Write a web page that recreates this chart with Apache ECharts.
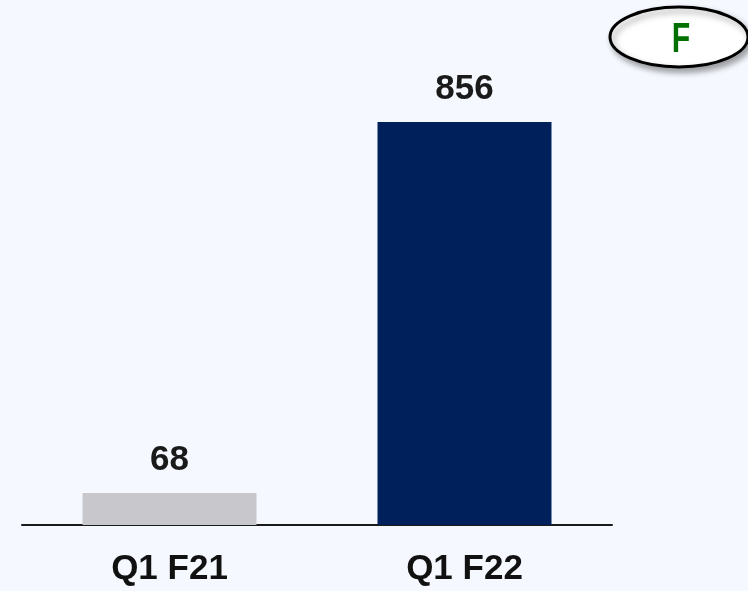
<!DOCTYPE html>
<html>
<head>
<meta charset="utf-8">
<script src="https://cdn.jsdelivr.net/npm/echarts@6/dist/echarts.min.js"></script>
<style>
  html, body { margin: 0; padding: 0; background: #f5f8fe; }
  #chart { width: 748px; height: 591px; }
</style>
</head>
<body>
<div id="chart"></div>
<script>
var categories = ['Q1 F21', 'Q1 F22'];
var values = [68, 856];
var barColors = ['#c8c7cc', '#00205b'];
var badgeText = 'F';

var chart = echarts.init(document.getElementById('chart'));

var option = {
  backgroundColor: '#f5f8fe',
  animation: false,
  grid: { left: 22, right: 136, top: 122, bottom: 66 },
  xAxis: {
    type: 'category',
    data: categories,
    axisTick: { show: false },
    axisLine: { lineStyle: { color: '#1a1a1a', width: 2 } },
    axisLabel: {
      margin: 27,
      color: '#111',
      fontSize: 35,
      fontWeight: 'bold',
      fontFamily: 'Liberation Sans, Arial'
    }
  },
  yAxis: {
    type: 'value',
    min: 0,
    max: function (v) { return v.max; },
    show: false,
    splitLine: { show: false }
  },
  series: [{
    type: 'bar',
    barWidth: 174,
    data: values.map(function (v, i) {
      return { value: v, itemStyle: { color: barColors[i] } };
    }),
    label: {
      show: true,
      position: 'top',
      distance: 15,
      color: '#1a1a1a',
      fontSize: 35,
      fontWeight: 'bold',
      fontFamily: 'Liberation Sans, Arial'
    }
  }],
  graphic: [
    {
      type: 'ellipse',
      shape: { cx: 679, cy: 37, rx: 69, ry: 30 },
      style: {
        fill: '#ffffff',
        stroke: '#000000',
        lineWidth: 3,
        shadowBlur: 6,
        shadowOffsetX: 3,
        shadowOffsetY: 4,
        shadowColor: 'rgba(0,0,0,0.35)'
      },
      z: 10
    },
    {
      type: 'text',
      x: 681,
      y: 40,
      scaleX: 0.72,
      style: {
        text: badgeText,
        fill: '#007000',
        font: 'bold 42px Liberation Sans, Arial',
        align: 'center',
        verticalAlign: 'middle'
      },
      z: 11
    }
  ]
};

chart.setOption(option);
</script>
</body>
</html>
